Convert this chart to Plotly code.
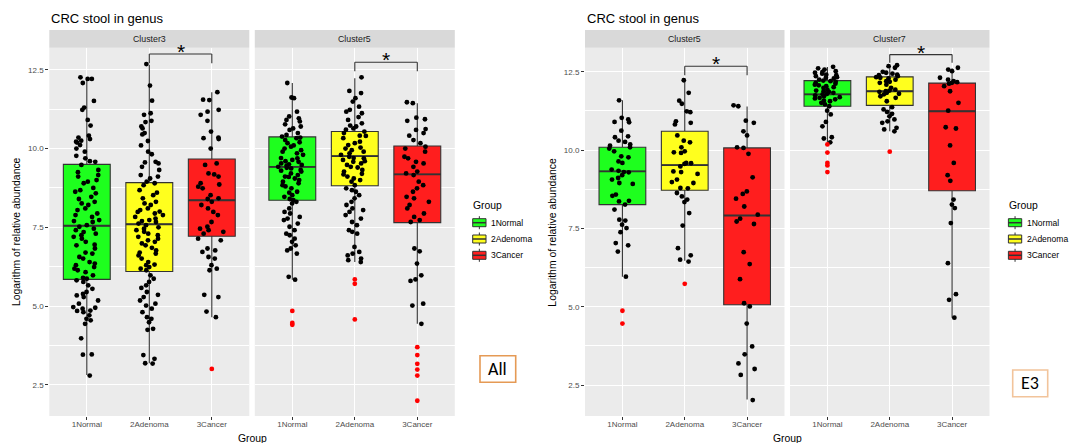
import plotly.graph_objects as go

W, H = 1075, 443

groups = ["1Normal", "2Adenoma", "3Cancer"]
group_colors = ["#1EFF1E", "#FFFF1E", "#FF1E1E"]
fig_titles = ["CRC stool in genus", "CRC stool in genus"]
facet_names = ["Cluster3", "Cluster5", "Cluster5", "Cluster7"]
panel_tags = ["All", "E3"]
y_ticks = [2.5, 5.0, 7.5, 10.0, 12.5]
y_tick_text = ["2.5", "5.0", "7.5", "10.0", "12.5"]

# ---- box statistics: [q1, median, q3, lower whisker, upper whisker] per group
stats_all_c3 = [[5.85, 7.55, 9.50, 2.82, 12.21],
                [6.10, 7.60, 8.92, 3.19, 12.66],
                [7.22, 8.36, 9.67, 4.65, 11.79]]
stats_all_c5 = [[8.36, 9.42, 10.37, 5.84, 12.08],
                [8.82, 9.76, 10.54, 6.40, 12.23],
                [7.65, 9.18, 10.08, 4.44, 11.44]]
stats_e3_c5 = [[8.26, 9.32, 10.09, 5.96, 11.59],
               [8.72, 9.52, 10.60, 6.47, 12.23],
               [5.06, 7.91, 10.07, 2.04, 11.39]]
stats_e3_c7 = [[11.40, 11.78, 12.22, 10.25, 12.65],
               [11.43, 11.88, 12.34, 10.60, 12.71],
               [8.70, 11.24, 12.14, 4.65, 12.61]]

# ---- jittered sample points (black)
pts_all_c3_normal = [12.26, 12.21, 12.08, 12.21, 11.51, 11.30, 11.23, 10.91, 10.73, 10.41, 10.35, 10.30,
                     10.25, 10.22, 10.19, 10.11, 10.00, 9.90, 9.77, 9.69, 9.60, 9.58, 9.48, 9.32, 9.25, 9.16,
                     9.11, 9.00, 8.95, 8.90, 8.75, 8.68, 8.63, 8.58, 8.47, 8.40, 8.31, 8.26, 8.21, 8.10, 8.05,
                     7.94, 7.89, 7.83, 7.73, 7.70, 7.67, 7.57, 7.52, 7.46, 7.41, 7.35, 7.30, 7.25, 7.20, 7.14,
                     7.04, 6.95, 6.93, 6.83, 6.70, 6.67, 6.56, 6.51, 6.40, 6.35, 6.30, 6.24, 6.19, 6.14, 6.08,
                     5.98, 5.90, 5.87, 5.82, 5.77, 5.66, 5.55, 5.45, 5.39, 5.34, 5.29, 5.18, 5.08, 4.97, 4.95,
                     4.92, 4.86, 4.85, 4.81, 4.71, 4.60, 4.55, 4.44, 3.98, 3.47, 3.46, 2.80]
pts_all_c3_adenoma = [12.68, 12.00, 11.52, 11.12, 11.07, 10.88, 10.84, 10.70, 10.64, 10.49, 10.45, 10.24,
                      10.10, 9.90, 9.82, 9.58, 9.56, 9.53, 9.42, 9.32, 9.16, 9.11, 9.05, 8.95, 8.90, 8.84,
                      8.68, 8.60, 8.52, 8.42, 8.31, 8.26, 8.21, 8.10, 8.05, 8.00, 7.99, 7.94, 7.89, 7.83,
                      7.78, 7.73, 7.70, 7.67, 7.62, 7.57, 7.50, 7.46, 7.41, 7.36, 7.30, 7.25, 7.20, 7.14,
                      7.09, 7.04, 6.99, 6.93, 6.85, 6.77, 6.70, 6.67, 6.61, 6.51, 6.40, 6.32, 6.30, 6.24,
                      6.19, 6.14, 5.98, 5.87, 5.77, 5.66, 5.58, 5.45, 5.36, 5.29, 5.18, 5.08, 5.02, 4.92,
                      4.81, 4.65, 4.60, 4.49, 4.28, 4.25, 3.45, 3.33, 3.19, 3.18]
pts_all_c3_cancer = [11.79, 11.55, 11.54, 11.23, 11.17, 11.07, 10.88, 10.54, 10.35, 10.33, 10.30, 10.00,
                     9.53, 9.48, 9.21, 9.18, 9.11, 8.90, 8.86, 8.79, 8.74, 8.52, 8.42, 8.40, 8.31, 8.21,
                     8.10, 7.99, 7.89, 7.67, 7.52, 7.46, 7.41, 7.36, 7.30, 7.14, 7.09, 6.83, 6.77, 6.72,
                     6.56, 6.51, 6.30, 6.19, 6.14, 5.36, 5.29, 4.83, 4.65]
pts_all_c5_normal = [12.08, 11.62, 11.60, 11.17, 11.02, 10.96, 10.91, 10.86, 10.77, 10.70, 10.64, 10.59,
                     10.49, 10.43, 10.38, 10.35, 10.33, 10.27, 10.20, 10.17, 10.10, 10.06, 10.00, 9.95,
                     9.90, 9.85, 9.80, 9.70, 9.69, 9.64, 9.60, 9.58, 9.53, 9.50, 9.48, 9.46, 9.42, 9.39,
                     9.37, 9.32, 9.30, 9.27, 9.21, 9.16, 9.11, 9.10, 9.05, 9.00, 8.95, 8.90, 8.84, 8.80,
                     8.74, 8.63, 8.60, 8.52, 8.47, 8.40, 8.36, 8.31, 8.26, 8.10, 7.99, 7.94, 7.83, 7.78,
                     7.73, 7.62, 7.52, 7.41, 7.30, 7.25, 7.14, 7.04, 6.93, 6.83, 6.77, 6.67, 5.93, 5.84]
pts_all_c5_adenoma = [12.26, 11.83, 11.76, 11.60, 11.49, 11.33, 11.23, 11.17, 11.12, 11.00, 10.91, 10.80,
                      10.73, 10.70, 10.64, 10.60, 10.54, 10.49, 10.41, 10.40, 10.33, 10.22, 10.17, 10.11,
                      10.03, 10.00, 9.95, 9.90, 9.85, 9.80, 9.74, 9.70, 9.69, 9.64, 9.60, 9.58, 9.53, 9.48,
                      9.42, 9.40, 9.32, 9.27, 9.20, 9.18, 9.11, 9.05, 9.00, 8.95, 8.84, 8.74, 8.68, 8.63,
                      8.52, 8.42, 8.31, 8.21, 8.10, 8.05, 7.99, 7.89, 7.78, 7.67, 7.57, 7.41, 7.36, 7.30,
                      6.88, 6.72, 6.67, 6.61, 6.51, 6.46, 6.40]
pts_all_c5_cancer = [11.47, 11.44, 10.98, 10.93, 10.88, 10.62, 10.59, 10.49, 10.41, 10.27, 10.17, 10.06,
                     10.00, 9.90, 9.74, 9.69, 9.58, 9.53, 9.42, 9.27, 9.21, 9.16, 8.95, 8.84, 8.74, 8.63,
                     8.47, 8.42, 8.31, 8.21, 8.10, 7.94, 7.83, 7.73, 7.67, 6.83, 6.74, 6.35, 5.98, 5.85,
                     5.80, 5.08, 5.02, 4.44]
pts_e3_c5_normal = [11.59, 11.03, 10.98, 10.90, 10.89, 10.62, 10.44, 10.41, 10.30, 10.26, 10.18, 10.14,
                    10.09, 10.05, 9.96, 9.80, 9.77, 9.64, 9.59, 9.38, 9.34, 9.30, 9.29, 9.20, 9.11, 9.06,
                    8.95, 8.92, 8.58, 8.54, 8.38, 8.36, 8.26, 8.10, 7.78, 7.75, 7.62, 7.51, 7.38, 7.03,
                    6.96, 6.76, 5.96]
pts_e3_c5_adenoma = [12.23, 11.83, 11.58, 11.48, 11.24, 11.21, 10.92, 10.87, 10.82, 10.47, 10.30, 10.25,
                     10.09, 9.96, 9.93, 9.91, 9.59, 9.58, 9.56, 9.48, 9.32, 9.30, 9.24, 9.06, 8.98, 8.95,
                     8.79, 8.78, 8.63, 8.52, 8.42, 8.34, 7.99, 7.59, 6.87, 6.64, 6.50, 6.44]
pts_e3_c5_cancer = [11.43, 11.40, 10.94, 10.87, 10.60, 10.47, 10.09, 10.07, 9.88, 9.13, 8.68, 8.60, 8.45,
                    8.20, 7.94, 7.81, 7.72, 7.64, 6.74, 6.36, 5.88, 5.11, 5.01, 4.46, 3.73, 3.48, 3.19,
                    3.01, 2.82, 2.02]
pts_e3_c7_normal = [12.66, 12.61, 12.57, 12.52, 12.50, 12.47, 12.44, 12.41, 12.39, 12.36, 12.33, 12.31,
                    12.29, 12.25, 12.22, 12.20, 12.18, 12.15, 12.12, 12.09, 12.07, 12.04, 12.01, 11.99,
                    11.93, 11.90, 11.88, 11.86, 11.83, 11.80, 11.78, 11.75, 11.72, 11.69, 11.67, 11.65,
                    11.62, 11.58, 11.56, 11.51, 11.46, 11.40, 11.26, 11.14, 10.90, 10.76, 10.41, 10.37,
                    10.25]
pts_e3_c7_adenoma = [12.71, 12.68, 12.63, 12.50, 12.47, 12.44, 12.41, 12.39, 12.36, 12.33, 12.31, 12.29,
                     12.25, 12.20, 12.18, 12.15, 12.09, 11.99, 11.93, 11.90, 11.88, 11.86, 11.83, 11.80,
                     11.78, 11.72, 11.67, 11.56, 11.37, 11.30, 11.22, 11.16, 11.08, 10.98, 10.92, 10.87,
                     10.71, 10.66, 10.60]
pts_e3_c7_cancer = [12.63, 12.57, 12.52, 12.31, 12.25, 12.20, 12.17, 12.15, 12.12, 12.04, 11.88, 11.51,
                    11.26, 10.73, 10.69, 10.15, 9.59, 9.20, 9.02, 8.42, 8.26, 8.15, 7.67, 6.39, 5.40, 5.22,
                    4.65]

# ---- outliers (red)
out_all_c3 = [[], [], [3.01]]
out_all_c5 = [[4.85, 4.47, 4.41], [5.85, 5.71, 4.58], [3.70, 3.45, 3.17, 2.99, 2.80, 2.00]]
out_e3_c5 = [[4.87, 4.46], [5.73], []]
out_e3_c7 = [[10.18, 9.92, 9.59, 9.51, 9.30], [9.95], []]

# ---- significance brackets: [bracket top, tick bottom, star label]
sig_all_c3 = [13.00, 12.71, "*"]
sig_all_c5 = [12.74, 12.45, "*"]
sig_e3_c5 = [12.68, 12.39, "*"]
sig_e3_c7 = [13.05, 12.79, "*"]

facets = [
    dict(stats=stats_all_c3, pts=[pts_all_c3_normal, pts_all_c3_adenoma, pts_all_c3_cancer],
         out=out_all_c3, sig=sig_all_c3),
    dict(stats=stats_all_c5, pts=[pts_all_c5_normal, pts_all_c5_adenoma, pts_all_c5_cancer],
         out=out_all_c5, sig=sig_all_c5),
    dict(stats=stats_e3_c5, pts=[pts_e3_c5_normal, pts_e3_c5_adenoma, pts_e3_c5_cancer],
         out=out_e3_c5, sig=sig_e3_c5),
    dict(stats=stats_e3_c7, pts=[pts_e3_c7_normal, pts_e3_c7_adenoma, pts_e3_c7_cancer],
         out=out_e3_c7, sig=sig_e3_c7),
]

# ---- layout geometry (pixels)
panel_x = [(49.3, 249.3), (254.8, 454.8), (585.0, 784.5), (790.0, 989.5)]
panel_top, panel_bot, strip_top = 47.7, 416.0, 30.0
y_ranges = [[1.516, 13.2], [1.51, 13.27]]
FONT = "Liberation Sans, Arial, sans-serif"


def fx(x):
    return x / W


def fy(y):
    return 1 - y / H


fig = go.Figure()
shapes, annotations = [], []

for i, fc in enumerate(facets):
    ax = "" if i == 0 else str(i + 1)
    xr, yr = "x" + ax, "y" + ax
    for g in range(3):
        q1, med, q3, lo, hi = fc["stats"][g]
        fig.add_trace(go.Box(
            x=[groups[g]], q1=[q1], median=[med], q3=[q3], lowerfence=[lo], upperfence=[hi],
            fillcolor=group_colors[g], line=dict(color="#333333", width=1.1), whiskerwidth=0,
            width=0.75, boxpoints=False, xaxis=xr, yaxis=yr, showlegend=False, hoverinfo="skip"))
        # thicker median line (ggplot fatten), drawn as a flat box at the median
        fig.add_trace(go.Box(
            x=[groups[g]], q1=[med], median=[med], q3=[med], lowerfence=[med], upperfence=[med],
            fillcolor="rgba(0,0,0,0)", line=dict(color="#333333", width=1.9), whiskerwidth=0,
            width=0.75, boxpoints=False, xaxis=xr, yaxis=yr, showlegend=False, hoverinfo="skip"))
    for g in range(3):
        p = fc["pts"][g]
        fig.add_trace(go.Box(
            x=[groups[g]] * len(p), y=p, boxpoints="all", jitter=0.62, pointpos=0,
            fillcolor="rgba(0,0,0,0)", line=dict(color="rgba(0,0,0,0)", width=0), whiskerwidth=0,
            width=0.75, marker=dict(color="black", size=4.8), xaxis=xr, yaxis=yr,
            showlegend=False, hoverinfo="y"))
    for g in range(3):
        o = fc["out"][g]
        if o:
            fig.add_trace(go.Scatter(
                x=[groups[g]] * len(o), y=o, mode="markers",
                marker=dict(color="#FF0000", size=4.8), xaxis=xr, yaxis=yr, showlegend=False))
    # significance bracket
    top, bot, lab = fc["sig"]
    for xs, ys in [((1, 1), (bot, top)), ((1, 2), (top, top)), ((2, 2), (top, bot))]:
        shapes.append(dict(type="line", xref=xr, yref=yr, x0=xs[0], x1=xs[1], y0=ys[0], y1=ys[1],
                           line=dict(color="#333333", width=1.1)))
    annotations.append(dict(text=lab, x=1.5, y=top, xref=xr, yref=yr, showarrow=False,
                            yanchor="bottom", yshift=-11, font=dict(size=21, color="black", family=FONT)))
    # strip
    x0, x1 = panel_x[i]
    shapes.append(dict(type="rect", xref="paper", yref="paper", x0=fx(x0), x1=fx(x1),
                       y0=fy(panel_top), y1=fy(strip_top), fillcolor="#D9D9D9", line=dict(width=0),
                       layer="below"))
    annotations.append(dict(text=facet_names[i], x=fx((x0 + x1) / 2), y=fy((panel_top + strip_top) / 2),
                            xref="paper", yref="paper", showarrow=False, xanchor="center", yanchor="middle",
                            font=dict(size=8.8, color="#1A1A1A", family=FONT)))

    yfig = y_ranges[0] if i < 2 else y_ranges[1]
    fig.update_layout(**{
        "xaxis" + ax: dict(domain=[fx(x0), fx(x1)], anchor=yr, type="category",
                           categoryorder="array", categoryarray=groups, range=[-0.6, 2.6],
                           showgrid=True, gridcolor="white", gridwidth=1.1, ticks="outside", ticklen=3,
                           tickwidth=1, tickcolor="#333333", showline=False, zeroline=False,
                           ticklabelstandoff=-3,
                           tickfont=dict(size=8, color="#4D4D4D", family=FONT)),
        "yaxis" + ax: dict(domain=[fy(panel_bot), fy(panel_top)], anchor=xr, range=yfig,
                           tickvals=y_ticks, ticktext=y_tick_text,
                           showticklabels=(i in (0, 2)), ticks="outside" if i in (0, 2) else "",
                           ticklen=3, tickwidth=1, tickcolor="#333333",
                           showgrid=True, gridcolor="white", gridwidth=1.1, zeroline=False,
                           minor=dict(tickvals=[1.25, 3.75, 6.25, 8.75, 11.25], showgrid=True,
                                      gridcolor="white", gridwidth=0.55, ticks=""),
                           tickfont=dict(size=8, color="#4D4D4D", family=FONT)),
    })

# ---- per-figure text: titles, axis titles, legends, tags
fig_left = [49.3, 585.0]
ytitle_x = [17.2, 552.8]
xtitle_x = [(panel_x[0][0] + panel_x[1][1]) / 2, (panel_x[2][0] + panel_x[3][1]) / 2]
legend_x = [471.0, 1006.7]
tag_boxes = [(480.0, 515.7, 355.7, 382.3, "#E59A55"), (1012.7, 1047.7, 370.0, 396.7, "#F2C49B")]
for k in range(2):
    annotations.append(dict(text=fig_titles[k], x=fx(fig_left[k]), y=fy(18.3), xref="paper", yref="paper",
                            showarrow=False, xanchor="left", yanchor="middle",
                            font=dict(size=13, color="black", family=FONT)))
    annotations.append(dict(text="Logarithm of relative abundance", x=fx(ytitle_x[k]),
                            y=fy((panel_top + panel_bot) / 2), xref="paper", yref="paper", showarrow=False,
                            textangle=-90, xanchor="center", yanchor="middle",
                            font=dict(size=10.4, color="black", family=FONT)))
    annotations.append(dict(text="Group", x=fx(xtitle_x[k]), y=fy(438.3), xref="paper", yref="paper",
                            showarrow=False, xanchor="center", yanchor="middle",
                            font=dict(size=10.4, color="black", family=FONT)))
    # legend
    lx = legend_x[k]
    annotations.append(dict(text="Group", x=fx(lx), y=fy(206), xref="paper", yref="paper", showarrow=False,
                            xanchor="left", yanchor="middle", font=dict(size=10.4, color="black", family=FONT)))
    for g in range(3):
        cy = 222.7 + g * 16.3
        kx0, kx1 = lx + 1.7, lx + 15.0
        kc = (kx0 + kx1) / 2
        shapes.append(dict(type="line", xref="paper", yref="paper", x0=fx(kc), x1=fx(kc),
                           y0=fy(cy - 6.5), y1=fy(cy + 6.5), line=dict(color="#333333", width=1)))
        shapes.append(dict(type="rect", xref="paper", yref="paper", x0=fx(kx0), x1=fx(kx1),
                           y0=fy(cy + 4), y1=fy(cy - 4), fillcolor=group_colors[g],
                           line=dict(color="#333333", width=1)))
        shapes.append(dict(type="line", xref="paper", yref="paper", x0=fx(kx0), x1=fx(kx1),
                           y0=fy(cy), y1=fy(cy), line=dict(color="#333333", width=1.5)))
        annotations.append(dict(text=groups[g], x=fx(lx + 18), y=fy(cy), xref="paper", yref="paper",
                                showarrow=False, xanchor="left", yanchor="middle",
                                font=dict(size=8.5, color="black", family=FONT)))
    # tag box
    bx0, bx1, by0, by1, bc = tag_boxes[k]
    shapes.append(dict(type="rect", xref="paper", yref="paper", x0=fx(bx0), x1=fx(bx1), y0=fy(by1),
                       y1=fy(by0), line=dict(color=bc, width=1.6), fillcolor="white"))
    annotations.append(dict(text=panel_tags[k], x=fx((bx0 + bx1) / 2), y=fy((by0 + by1) / 2),
                            xref="paper", yref="paper", showarrow=False, xanchor="center", yanchor="middle",
                            font=dict(size=18, color="black", family="Carlito, Lato, sans-serif")))

fig.update_layout(width=W, height=H, margin=dict(l=0, r=0, t=0, b=0), paper_bgcolor="white",
                  plot_bgcolor="#EBEBEB", boxmode="overlay", showlegend=False,
                  shapes=shapes, annotations=annotations)

fig.write_html("out.html")
